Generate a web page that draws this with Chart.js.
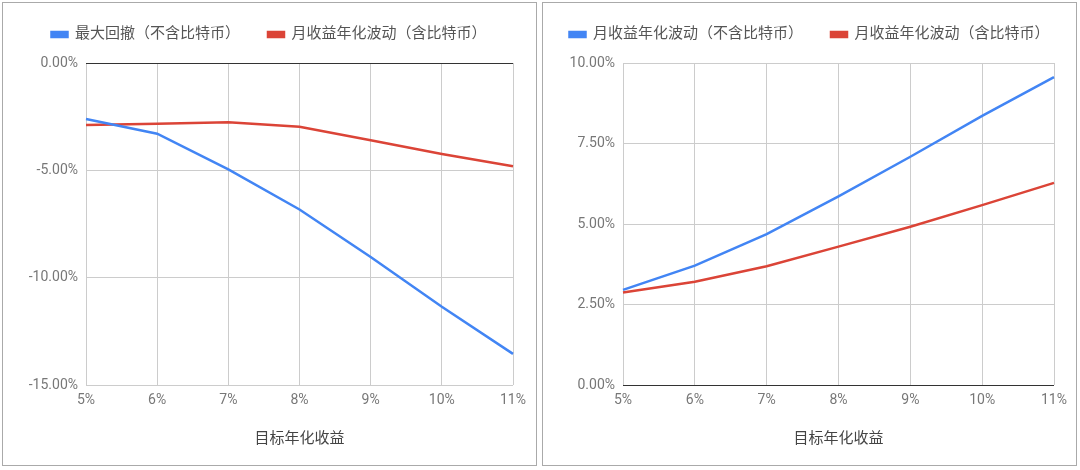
<!DOCTYPE html>
<html>
<head>
<meta charset="utf-8">
<script src="https://cdn.jsdelivr.net/npm/chart.js@4/dist/chart.umd.min.js"></script>
<style>
  body { margin: 0; background: #fff; width: 1080px; height: 470px; position: relative; }
  .panel { position: absolute; top: 2px; width: 533px; height: 462px; border: 1px solid #aaa; }
  #leftPanel { left: 2px; }
  #rightPanel { left: 542px; }
  canvas { display: block; }
</style>
</head>
<body>
<div class="panel" id="leftPanel"><canvas id="chartLeft" width="533" height="462"></canvas></div>
<div class="panel" id="rightPanel"><canvas id="chartRight" width="533" height="462"></canvas></div>
<script>
// DATA
const targetReturns = ['5%', '6%', '7%', '8%', '9%', '10%', '11%'];
const drawdownNoBtc = [-2.61, -3.29, -4.95, -6.82, -9.03, -11.35, -13.54];
const volWithBtcLeft = [-2.89, -2.83, -2.76, -2.97, -3.60, -4.24, -4.81];
const volNoBtc = [2.96, 3.71, 4.69, 5.86, 7.09, 8.36, 9.56];
const volWithBtc = [2.88, 3.21, 3.69, 4.30, 4.92, 5.59, 6.28];

const leftTicks = [0, -5, -10, -15];
const rightTicks = [0, 2.5, 5, 7.5, 10];

const BLUE = '#4285F4';
const RED = '#DB4437';
const FONT = "Roboto, 'Noto Sans CJK SC', sans-serif";

// keep the legend on one row, add space under it and nudge it into place
const legendTweak = {
    id: 'legendTweak',
    beforeInit(chart) {
        const fit = chart.legend.fit;
        chart.legend.fit = function () {
            const mw = this.maxWidth;
            this.maxWidth = mw + 200;
            fit.call(this);
            this.maxWidth = mw;
            this.width = mw;
            this.height += 7;
        };
    },
    afterLayout(chart, args, opts) {
        const lg = chart.legend;
        // widen both sides equally so nothing wraps while drawing
        lg.left += opts.dx - 100;
        lg.right += opts.dx + 100;
        lg.top -= 4;
        lg.bottom -= 4;
    }
};

function makeChart(id, series, yMin, yMax, step, yWidth, padRight, dx) {
    const ctx = document.getElementById(id).getContext('2d');
    return new Chart(ctx, {
        type: 'line',
        data: {
            labels: targetReturns,
            datasets: series.map(s => ({
                label: s.label,
                data: s.data,
                borderColor: s.color,
                backgroundColor: s.color,
                borderWidth: 2.5,
                pointRadius: 0,
                tension: 0,
                fill: false
            }))
        },
        options: {
            responsive: false,
            animation: false,
            layout: { padding: { left: 0, right: padRight, top: 0, bottom: 0 } },
            plugins: {
                legend: {
                    position: 'top',
                    labels: {
                        boxWidth: 16,
                        boxHeight: 5,
                        padding: 28,
                        color: '#555',
                        font: { family: FONT, size: 15 }
                    }
                },
                legendTweak: { dx: dx },
                tooltip: { enabled: false }
            },
            scales: {
                x: {
                    offset: false,
                    border: { display: false },
                    grid: { color: '#cccccc', drawTicks: false },
                    ticks: { color: '#777', padding: 7, maxRotation: 0, font: { family: FONT, size: 14 } },
                    title: {
                        display: true,
                        text: '目标年化收益',
                        color: '#444',
                        padding: { top: 14, bottom: 17 },
                        font: { family: FONT, size: 15 }
                    }
                },
                y: {
                    min: yMin,
                    max: yMax,
                    border: { display: false },
                    afterFit: s => { s.width = yWidth; },
                    grid: {
                        drawTicks: false,
                        color: c => (c.tick && c.tick.value === 0) ? '#333' : '#cccccc'
                    },
                    ticks: {
                        stepSize: step,
                        padding: 8,
                        color: '#777',
                        font: { family: FONT, size: 14 },
                        callback: v => v.toFixed(2) + '%'
                    }
                }
            }
        },
        plugins: [legendTweak]
    });
}

makeChart('chartLeft', [
    { label: '最大回撤（不含比特币）', data: drawdownNoBtc, color: BLUE },
    { label: '月收益年化波动（含比特币）', data: volWithBtcLeft, color: RED }
], leftTicks[leftTicks.length - 1], leftTicks[0], 5, 83, 23, 11);

makeChart('chartRight', [
    { label: '月收益年化波动（不含比特币）', data: volNoBtc, color: BLUE },
    { label: '月收益年化波动（含比特币）', data: volWithBtc, color: RED }
], rightTicks[0], rightTicks[rightTicks.length - 1], 2.5, 80, 22, 11);
</script>
</body>
</html>
